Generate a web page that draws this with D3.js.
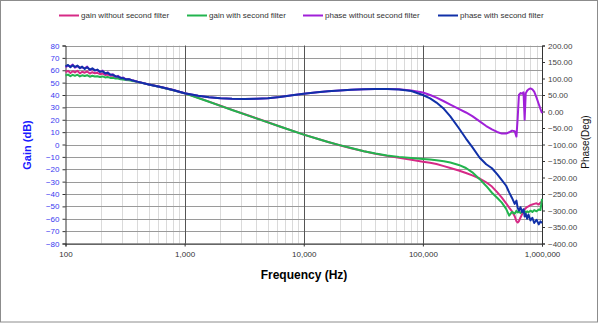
<!DOCTYPE html>
<html><head><meta charset="utf-8">
<script src="https://cdn.jsdelivr.net/npm/d3@7"></script>
<style>body{margin:0;background:#fff}svg{display:block;font-family:"Liberation Sans",Arial,sans-serif}</style>
</head><body><svg id="c" width="599" height="323"></svg>
<script>
const freq = [100,105,110,115,120,126,132,138,145,152,160,168,176,185,195,205,215,226,238,250,263,276,290,305,320,340,360,380,400,
500,630,800,1000,1300,1600,2000,2500,3200,4000,5000,6300,8000,10000,13000,16000,20000,25000,32000,40000,50000,63000,80000,
100000,115000,130000,150000,170000,200000,230000,260000,300000,340000,380000,420000,460000,500000,530000,560000,590000,610000,
625000,640000,660000,680000,700000,715000,730000,750000,770000,800000,830000,860000,900000,940000,970000,1000000];

const gainWithout = [58.5,59.5,57.8,59.2,58.2,59.6,57.5,58.8,58.0,59.0,57.3,58.4,57.6,57.9,56.8,57.4,56.2,56.6,55.6,55.7,54.8,54.6,53.9,53.6,53.0,52.6,51.9,51.3,50.8,
48.6,46.4,44.0,41.5,37.7,34.6,31.3,28.0,24.4,21.2,18.0,14.6,11.2,8.0,4.6,2.0,-0.6,-3.0,-5.5,-7.5,-9.2,-10.8,-12.4,
-13.9,-14.8,-15.8,-17.5,-19.0,-21.0,-23.0,-25.0,-27.5,-30.5,-34.0,-38.5,-43.0,-47.5,-51.0,-54.0,-58.0,-62.0,
-63.0,-62.0,-59.0,-56.5,-54.0,-52.5,-51.5,-50.5,-50.0,-49.0,-48.5,-48.0,-47.5,-48.5,-47.0,-46.0];

const gainWith = [55.8,56.5,55.2,56.3,55.5,56.4,55.0,55.9,55.3,56.0,54.8,55.5,54.9,55.2,54.6,55.0,54.2,54.5,53.8,54.0,53.4,53.3,52.8,52.6,52.2,51.9,51.4,51.0,50.6,
48.5,46.3,43.9,41.3,37.6,34.5,31.2,27.9,24.3,21.1,17.9,14.5,11.1,8.0,4.6,2.0,-0.5,-2.9,-5.4,-7.3,-8.8,-10.0,-10.9,
-11.7,-12.2,-12.8,-13.6,-14.6,-16.5,-19.0,-22.5,-28.0,-33.5,-39.0,-43.0,-47.0,-52.0,-57.5,-54.5,-56.0,-53.5,
-55.0,-54.0,-55.5,-54.0,-55.0,-53.8,-55.2,-54.0,-54.8,-53.5,-54.5,-53.0,-54.0,-52.5,-53.0,-44.0];

const phaseWithout = [134,139,137,142,133,137,134,133,131,136,125,129,126,125,121,124,114,119,110,113,105,108,101,103,97,98,95,92.5,90.5,
82,74,65,55.5,48,43.5,40.5,38.5,38,38.5,40.5,44,49,53.5,58,61,64,66,67.5,68,68.5,67.5,64,
57.5,50,42,31,21,8,-3,-14,-30,-44,-54,-62,-67,-67,-63,-58,-60,-76,
-20,50,56,54,58,-25,55,63,67,70,67,60,42,22,8,-5];

const phaseWith = [137,141,134,140,135,139,131,136,129,134,127,131,124,127,120,122,116,117,112,111,107,106,102,101,98,98,95,92.5,90.5,
82,74,65,55.5,48,43.5,40.5,38.5,38,38.5,40.5,44,49,53.5,58,61,64,66,67.5,68,68,67,62,
50,40,27,8,-15,-50,-82,-108,-140,-160,-172,-190,-208,-225,-245,-262,-280,-270,
-292,-300,-290,-305,-296,-318,-310,-325,-312,-330,-322,-338,-328,-342,-333,-338];

const freqTicks = [100,1000,10000,100000,1000000];
const gainTicks = d3.range(-80, 81, 10);
const phaseTicks = d3.range(-400, 201, 50);

const series = [
  {name:"gain without second filter", values:gainWithout, axis:"gain", color:"#d62a86"},
  {name:"gain with second filter", values:gainWith, axis:"gain", color:"#22b44e"},
  {name:"phase without second filter", values:phaseWithout, axis:"phase", color:"#a020d8"},
  {name:"phase with second filter", values:phaseWith, axis:"phase", color:"#1030a8"}
];

const svg = d3.select("#c");
const L = 65.5, R = 542, T = 45.5, B = 243.5;
const x = d3.scaleLog().domain([100,1e6]).range([L,R]);
const yG = d3.scaleLinear().domain([-80,80]).range([B,T]);
const yP = d3.scaleLinear().domain([-400,200]).range([B,T]);

svg.append("rect").attr("x",0.5).attr("y",0.5).attr("width",597).attr("height",321.5)
  .attr("fill","#fff").attr("stroke","#8c8c8c");

// minor vertical grid
const minors = [];
for (let d=100; d<1e6; d*=10) for (let k=2;k<=9;k++) minors.push(d*k);
svg.append("g").selectAll("line").data(minors).join("line")
  .attr("x1",d=>Math.round(x(d))+0.5).attr("x2",d=>Math.round(x(d))+0.5).attr("y1",T).attr("y2",B)
  .attr("stroke","#dadada").attr("stroke-width",1);
// horizontal grid
svg.append("g").selectAll("line").data(gainTicks).join("line")
  .attr("x1",L).attr("x2",R).attr("y1",d=>Math.round(yG(d))+0.5).attr("y2",d=>Math.round(yG(d))+0.5)
  .attr("stroke","#9a9a9a").attr("stroke-width",1);
// major vertical grid
svg.append("g").selectAll("line").data(freqTicks.slice(1,-1)).join("line")
  .attr("x1",d=>Math.round(x(d))+0.5).attr("x2",d=>Math.round(x(d))+0.5).attr("y1",T).attr("y2",B)
  .attr("stroke","#555").attr("stroke-width",1);

// axes
const ax = svg.append("g").attr("transform",`translate(0,${B})`)
  .call(d3.axisBottom(x).tickValues(freqTicks).tickFormat(d3.format(",")).tickSize(3));
ax.selectAll("text").attr("font-size",8).attr("fill","#333").attr("dy","0.9em");
const al = svg.append("g").attr("transform",`translate(${L},0)`)
  .call(d3.axisLeft(yG).tickValues(gainTicks).tickSize(3).tickFormat(d3.format("d")));
al.selectAll("text").attr("font-size",8).attr("fill","#3a3af0");
const ar = svg.append("g").attr("transform",`translate(${R},0)`)
  .call(d3.axisRight(yP).tickValues(phaseTicks).tickSize(3).tickFormat(d3.format(".2f")));
ar.selectAll("text").attr("font-size",8).attr("fill","#444");
svg.selectAll(".domain").attr("stroke","#333");
svg.selectAll(".tick line").attr("stroke","#333");
svg.selectAll(".tick text").attr("font-family","Liberation Sans, Arial, sans-serif");

// lines
series.forEach(s=>{
  const yy = s.axis==="gain" ? yG : yP;
  const line = d3.line().x((d,i)=>x(freq[i])).y(d=>yy(d));
  svg.append("path").datum(s.values).attr("d",line).attr("fill","none")
    .attr("stroke",s.color).attr("stroke-width",2).attr("stroke-linejoin","round");
});

// titles
svg.append("text").attr("x",304).attr("y",279).attr("text-anchor","middle")
  .attr("font-size",12).attr("font-weight","bold").attr("fill","#000").text("Frequency (Hz)");
svg.append("text").attr("transform","translate(31,145) rotate(-90)").attr("text-anchor","middle")
  .attr("font-size",11).attr("font-weight","bold").attr("fill","#1a1aff").text("Gain (dB)");
svg.append("text").attr("transform","translate(589,142) rotate(-90)").attr("text-anchor","middle")
  .attr("font-size",10).attr("fill","#111").text("Phase(Deg)");

// legend
const legX = [59,187,303,438];
const lg = svg.append("g");
series.forEach((s,i)=>{
  lg.append("line").attr("x1",legX[i]).attr("x2",legX[i]+20).attr("y1",15.5).attr("y2",15.5)
    .attr("stroke",s.color).attr("stroke-width",2);
  lg.append("text").attr("x",legX[i]+22).attr("y",18.3).attr("font-size",8).attr("fill","#333").text(s.name);
});
</script></body></html>
